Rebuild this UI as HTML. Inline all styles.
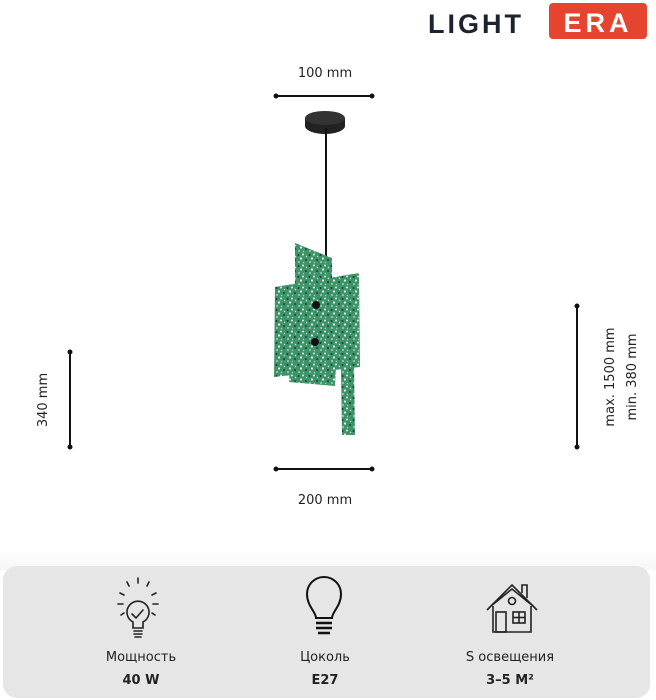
<!DOCTYPE html>
<html><head><meta charset="utf-8"><style>
html,body{margin:0;padding:0;background:#fff;}
body{width:656px;height:700px;overflow:hidden;position:relative;font-family:"Liberation Sans","DejaVu Sans",sans-serif;}
</style></head><body>
<svg width="656" height="700" viewBox="0 0 656 700" xmlns="http://www.w3.org/2000/svg" style="position:absolute;left:0;top:0">
<defs>
<pattern id="terr" width="11" height="11" patternUnits="userSpaceOnUse">
<rect width="11" height="11" fill="#3d9468"/>
<circle cx="1.5" cy="2" r="1" fill="#1d3d2e"/>
<circle cx="6" cy="1.5" r="1" fill="#dfece3"/>
<circle cx="4" cy="5.5" r="1.1" fill="#e9f1eb"/>
<circle cx="9" cy="7" r="0.9" fill="#223"/>
<circle cx="2" cy="9" r="0.9" fill="#c9dccd"/>
<circle cx="9.5" cy="3.5" r="0.7" fill="#d5e8dc"/>
<circle cx="6.5" cy="9.5" r="0.8" fill="#a8c8b4"/>
</pattern>
<linearGradient id="fade" x1="0" y1="0" x2="0" y2="1">
<stop offset="0" stop-color="#fff"/><stop offset="1" stop-color="#f6f6f6"/>
</linearGradient>
</defs>
<!-- logo -->
<text x="428" y="33" font-family="Liberation Sans, sans-serif" font-weight="bold" font-size="27" fill="#1c2230" letter-spacing="3">LIGHT</text>
<rect x="549" y="3" width="98" height="36" rx="4" fill="#e5452f"/>
<text x="598" y="32" text-anchor="middle" font-family="Liberation Sans, sans-serif" font-weight="bold" font-size="27" fill="#fff" letter-spacing="4">ERA</text>

<!-- dimension lines -->
<g stroke="#111" stroke-width="2" fill="#111">
<line x1="276" y1="96" x2="372" y2="96"/><circle cx="276" cy="96" r="1.5"/><circle cx="372" cy="96" r="1.5"/>
<line x1="276" y1="469" x2="372" y2="469"/><circle cx="276" cy="469" r="1.5"/><circle cx="372" cy="469" r="1.5"/>
<line x1="70" y1="352" x2="70" y2="447"/><circle cx="70" cy="352" r="1.5"/><circle cx="70" cy="447" r="1.5"/>
<line x1="577" y1="306" x2="577" y2="447"/><circle cx="577" cy="306" r="1.5"/><circle cx="577" cy="447" r="1.5"/>
</g>
<g font-family="DejaVu Sans, sans-serif" font-size="13" fill="#222">
<text x="325" y="77" text-anchor="middle">100 mm</text>
<text x="325" y="504" text-anchor="middle">200 mm</text>
<text transform="translate(47,400) rotate(-90)" text-anchor="middle">340 mm</text>
<text transform="translate(614,377) rotate(-90)" text-anchor="middle">max. 1500 mm</text>
<text transform="translate(636,377) rotate(-90)" text-anchor="middle">min. 380 mm</text>
</g>

<!-- lamp -->
<ellipse cx="325" cy="126" rx="20" ry="8" fill="#222"/>
<rect x="305" y="118" width="40" height="8" fill="#222"/>
<ellipse cx="325" cy="118" rx="20" ry="7" fill="#333"/>
<line x1="326" y1="128" x2="326" y2="285" stroke="#111" stroke-width="2"/>
<polygon points="295,243 332,258 332,290 295,290" fill="url(#terr)"/>
<polygon points="290,366 336,366 335,386 289,382" fill="url(#terr)"/>
<polygon points="275,287 359,273 360,367 274,377" fill="url(#terr)"/>
<polygon points="341,367 354,366 355,435 342,435" fill="url(#terr)"/>
<circle cx="316" cy="305" r="4" fill="#111"/>
<circle cx="315" cy="342" r="4" fill="#111"/>

<!-- bottom panel -->
<rect x="0" y="550" width="656" height="20" fill="url(#fade)"/>
<rect x="3" y="566" width="647" height="132" rx="14" fill="#e6e6e6"/>

<!-- icon 1 -->
<g stroke="#222" stroke-width="1.6" fill="none" stroke-linecap="round">
<path d="M133,622 a11,11 0 1 1 10,0 l0,6 l-10,0 z"/>
<path d="M132,614 l4,4 l7,-8"/>
<line x1="134" y1="631" x2="142" y2="631"/><line x1="134" y1="634" x2="142" y2="634"/><line x1="135" y1="637" x2="141" y2="637"/>
<line x1="138" y1="578" x2="138" y2="583"/><line x1="127" y1="582" x2="129" y2="586"/><line x1="149" y1="582" x2="147" y2="586"/>
<line x1="120" y1="593" x2="124" y2="595"/><line x1="156" y1="593" x2="152" y2="595"/>
<line x1="118" y1="604" x2="123" y2="604"/><line x1="153" y1="604" x2="158" y2="604"/>
<line x1="121" y1="615" x2="124" y2="613"/><line x1="155" y1="615" x2="152" y2="613"/>
</g>
<!-- icon 2 -->
<g stroke="#111" stroke-width="2" fill="none">
<path d="M316,618 C316,612 307,606 307,594 a17,17 0 1 1 34,0 C341,606 332,612 332,618 z"/>
<line x1="316" y1="623" x2="332" y2="623" stroke-width="2.5"/><line x1="316" y1="628" x2="332" y2="628" stroke-width="2.5"/><line x1="318" y1="633" x2="330" y2="633" stroke-width="2.5"/>
</g>
<!-- icon 3 -->
<g stroke="#222" stroke-width="1.6" fill="none">
<path d="M487,610 L512,585 L537,610"/>
<path d="M491,606 L512,589 L533,606"/>
<path d="M493,606 L493,632 L531,632 L531,606"/>
<rect x="496" y="612" width="10" height="20"/>
<rect x="513" y="612" width="12" height="11"/><line x1="519" y1="612" x2="519" y2="623"/><line x1="513" y1="617.5" x2="525" y2="617.5"/>
<circle cx="512" cy="601" r="3.5"/>
<path d="M522,593 L522,585 L527,585 L527,598"/>
</g>
<g font-family="DejaVu Sans, sans-serif" fill="#222" text-anchor="middle">
<text x="141" y="661" font-size="13">Мощность</text>
<text x="325" y="661" font-size="13">Цоколь</text>
<text x="510" y="661" font-size="13">S освещения</text>
<text x="141" y="684" font-size="13" font-weight="bold">40 W</text>
<text x="325" y="684" font-size="13" font-weight="bold">E27</text>
<text x="510" y="684" font-size="13" font-weight="bold">3–5 M²</text>
</g>
</svg>
</body></html>
